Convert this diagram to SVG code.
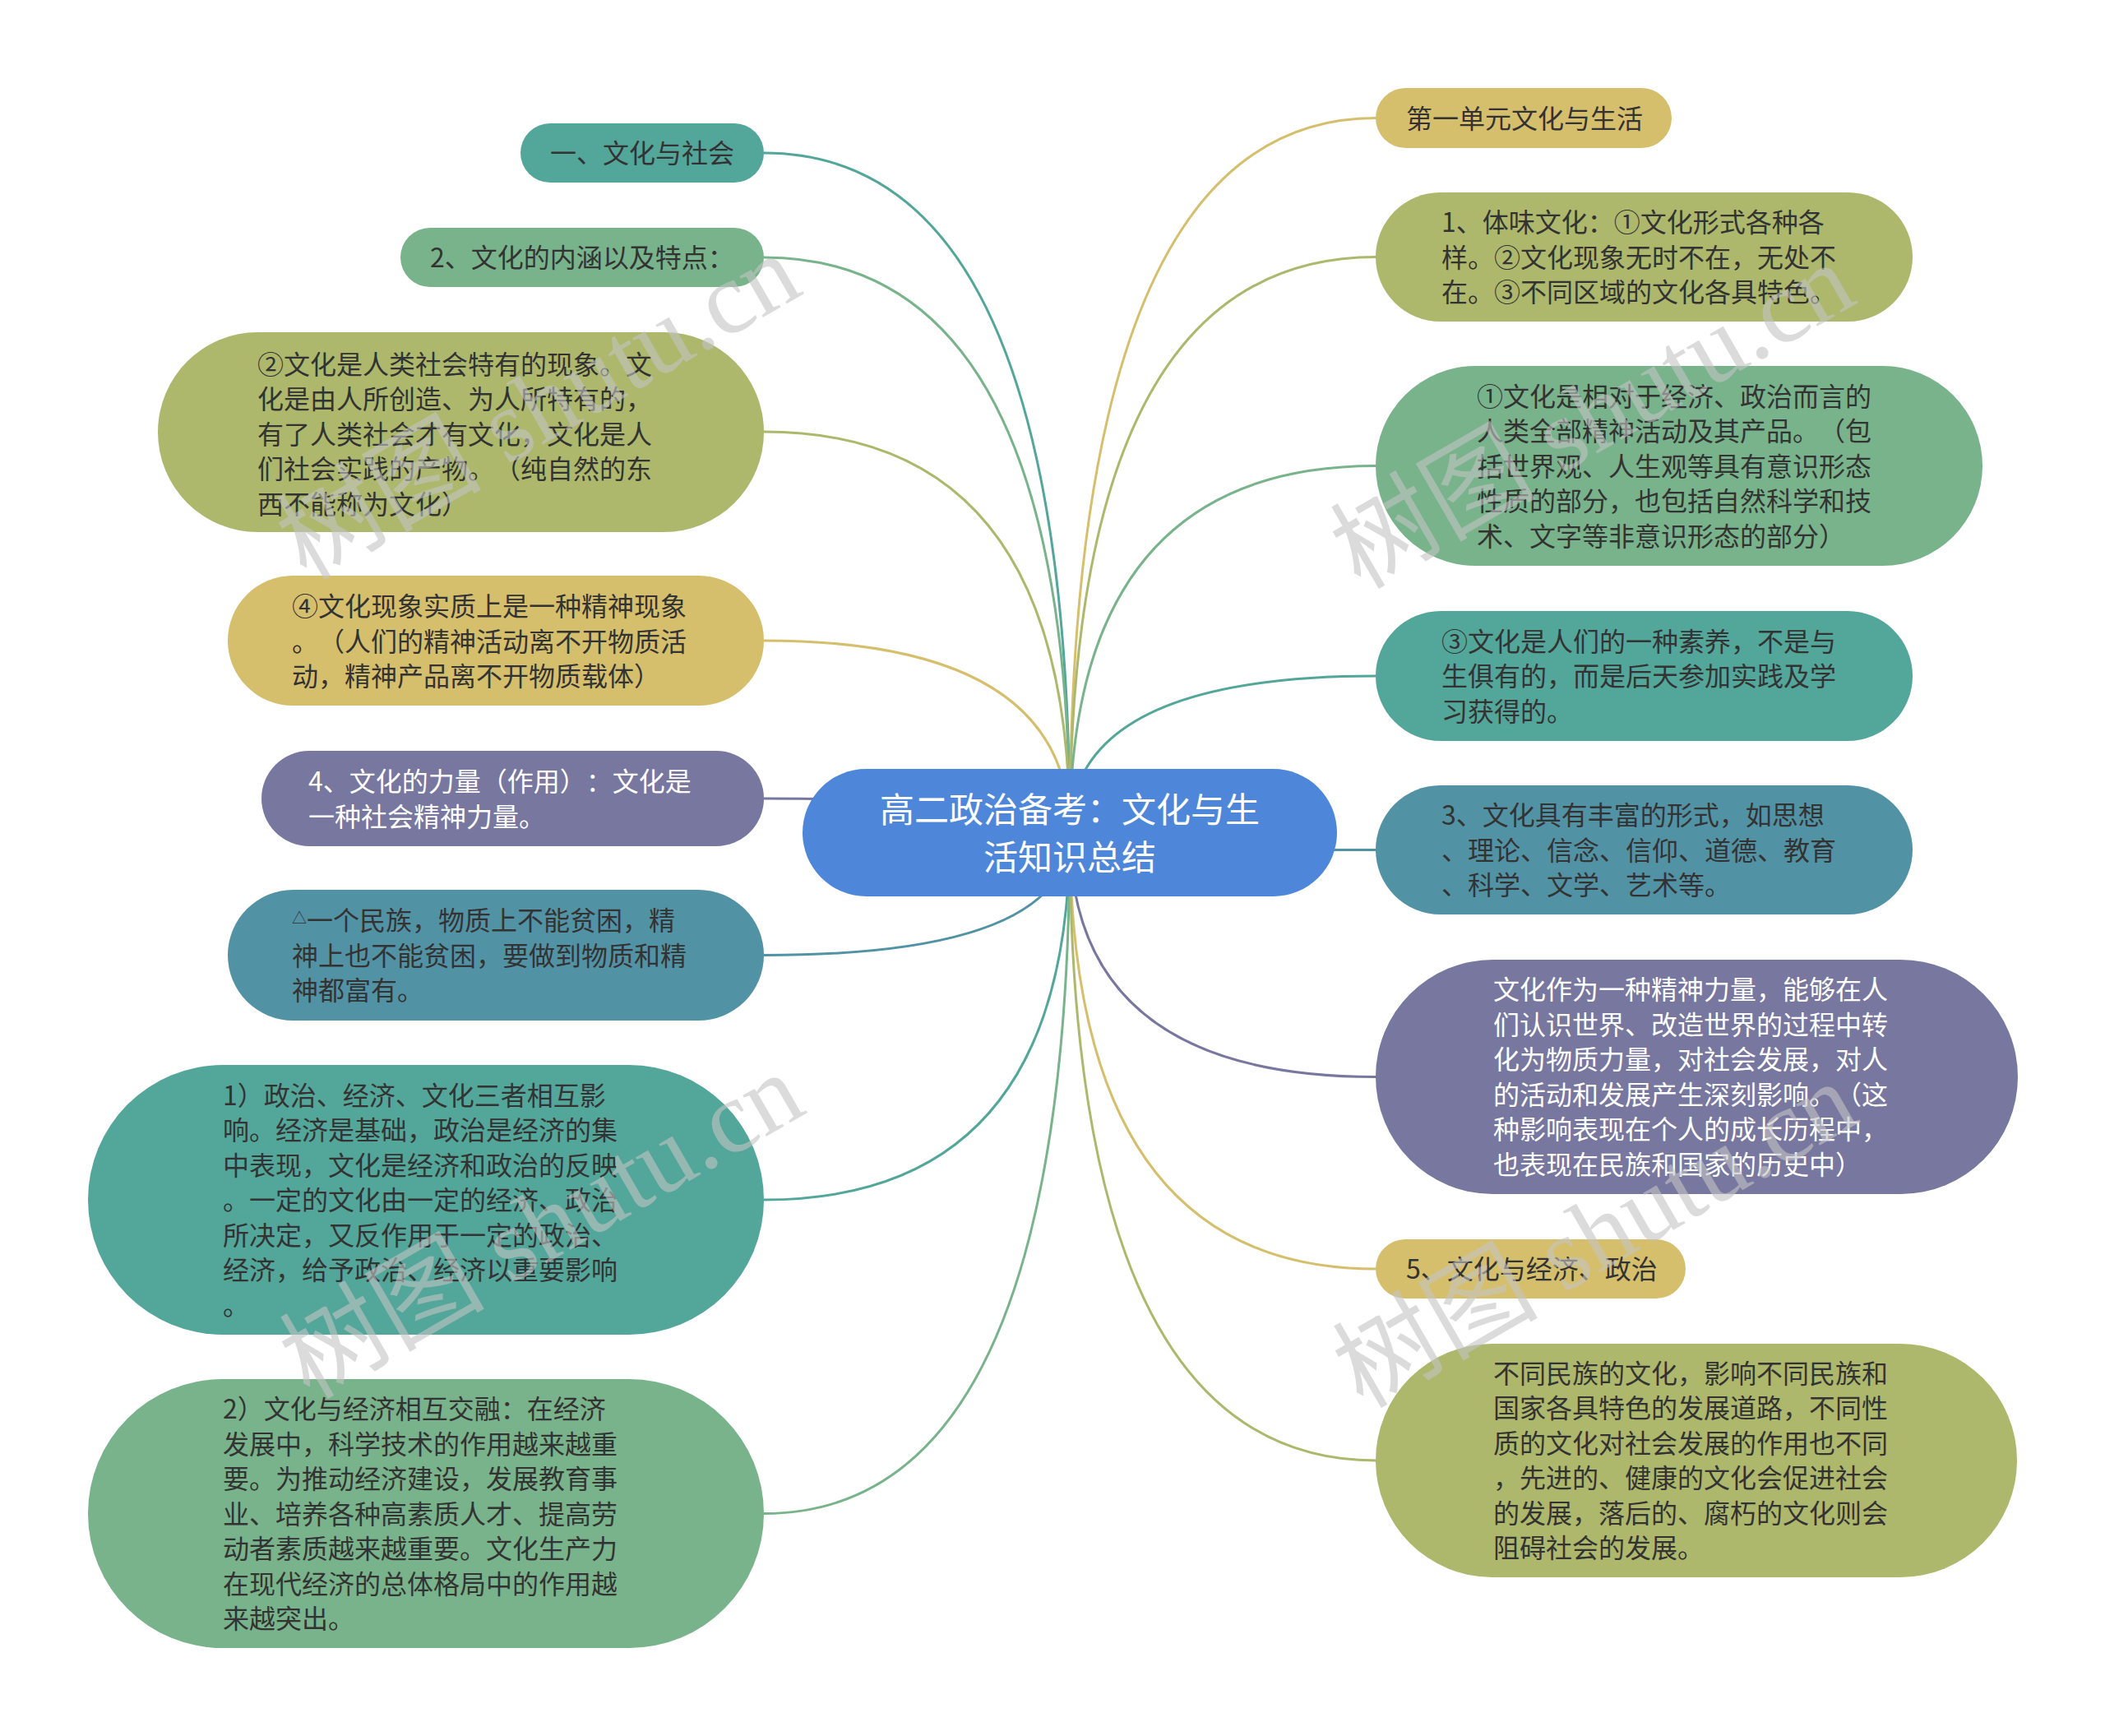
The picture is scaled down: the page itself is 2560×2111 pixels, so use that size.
<svg xmlns="http://www.w3.org/2000/svg" width="2560" height="2111" viewBox="0 0 2560 2111">
<style>
text{text-spacing-trim:space-all}
.t{font-family:"Noto Sans CJK SC","Noto Sans",sans-serif;font-size:32px;fill:#333333}
.w{fill:#ffffff}
.c{font-family:"Noto Sans CJK SC","Noto Sans",sans-serif;font-size:42px;fill:#ffffff;text-anchor:middle}
.e{fill:none;stroke-width:3}
.wm{font-family:"Liberation Serif","Noto Sans CJK SC",serif;font-size:125px;fill:#c4c4c4;opacity:0.6;text-anchor:middle}
.teal{fill:#53a69a}.green{fill:#78b38b}.olive{fill:#adb86c}.gold{fill:#d6bf6c}.purple{fill:#77779f}.blue{fill:#5292a5}
</style>
<rect width="2560" height="2111" fill="#ffffff"/>
<g id="connectors">
<path class="e" stroke="#53a69a" d="M1301 1012 Q1301 186 929 186"/>
<path class="e" stroke="#78b38b" d="M1301 1012 Q1301 313 929 313"/>
<path class="e" stroke="#adb86c" d="M1301 1012 Q1301 525 929 525"/>
<path class="e" stroke="#d6bf6c" d="M1301 1012 Q1301 779 929 779"/>
<path class="e" stroke="#77779f" d="M1301 1012 Q1301 971 929 971"/>
<path class="e" stroke="#5292a5" d="M1301 1012 Q1301 1161.5 929 1161.5"/>
<path class="e" stroke="#53a69a" d="M1301 1012 Q1301 1459 929 1459"/>
<path class="e" stroke="#78b38b" d="M1301 1012 Q1301 1840.5 929 1840.5"/>
<path class="e" stroke="#d6bf6c" d="M1301 1012 Q1301 143.5 1673 143.5"/>
<path class="e" stroke="#adb86c" d="M1301 1012 Q1301 312.5 1673 312.5"/>
<path class="e" stroke="#78b38b" d="M1301 1012 Q1301 566.5 1673 566.5"/>
<path class="e" stroke="#53a69a" d="M1301 1012 Q1301 822 1673 822"/>
<path class="e" stroke="#5292a5" d="M1301 1012 Q1301 1033.5 1673 1033.5"/>
<path class="e" stroke="#77779f" d="M1301 1012 Q1301 1309.5 1673 1309.5"/>
<path class="e" stroke="#d6bf6c" d="M1301 1012 Q1301 1543 1673 1543"/>
<path class="e" stroke="#adb86c" d="M1301 1012 Q1301 1776 1673 1776"/>
</g>
<g id="center">
<rect x="976" y="935" width="650" height="155" rx="77.5" fill="#4e87d9"/>
<text class="c"><tspan x="1301" y="1000">高二政治备考：文化与生</tspan><tspan x="1301" y="1058">活知识总结</tspan></text>
</g>
<g id="L1">
<rect class="teal" x="633" y="150" width="296" height="72" rx="36"/>
<text class="t"><tspan x="669" y="198">一、文化与社会</tspan></text>
</g>
<g id="L2">
<rect class="green" x="487" y="277" width="442" height="72" rx="36"/>
<text class="t"><tspan x="523" y="325">2、文化的内涵以及特点：</tspan></text>
</g>
<g id="L3">
<rect class="olive" x="192" y="404" width="737" height="243" rx="121.5"/>
<text class="t"><tspan x="313" y="454.5">②文化是人类社会特有的现象。文</tspan><tspan x="313" y="497">化是由人所创造、为人所特有的，</tspan><tspan x="313" y="539.5">有了人类社会才有文化，文化是人</tspan><tspan x="313" y="582">们社会实践的产物。（纯自然的东</tspan><tspan x="313" y="624.5">西不能称为文化）</tspan></text>
</g>
<g id="L4">
<rect class="gold" x="277" y="700" width="652" height="158" rx="79"/>
<text class="t"><tspan x="355" y="749">④文化现象实质上是一种精神现象</tspan><tspan x="355" y="791.5">。（人们的精神活动离不开物质活</tspan><tspan x="355" y="834">动，精神产品离不开物质载体）</tspan></text>
</g>
<g id="L5">
<rect class="purple" x="318" y="913" width="611" height="116" rx="58"/>
<text class="t w"><tspan x="375" y="962">4、文化的力量（作用）：文化是</tspan><tspan x="375" y="1004.5">一种社会精神力量。</tspan></text>
</g>
<g id="L6">
<rect class="blue" x="277" y="1082" width="652" height="159" rx="79.5"/>
<text class="t"><tspan x="355" y="1131"><tspan font-size="18" dy="-8">△</tspan><tspan dy="8">一个民族，物质上不能贫困，精</tspan></tspan><tspan x="355" y="1173.5">神上也不能贫困，要做到物质和精</tspan><tspan x="355" y="1216">神都富有。</tspan></text>
</g>
<g id="L7">
<rect class="teal" x="107" y="1295" width="822" height="328" rx="164"/>
<text class="t"><tspan x="271" y="1343.5">1）政治、经济、文化三者相互影</tspan><tspan x="271" y="1386">响。经济是基础，政治是经济的集</tspan><tspan x="271" y="1428.5">中表现，文化是经济和政治的反映</tspan><tspan x="271" y="1471">。一定的文化由一定的经济、政治</tspan><tspan x="271" y="1513.5">所决定，又反作用于一定的政治、</tspan><tspan x="271" y="1556">经济，给予政治、经济以重要影响</tspan><tspan x="271" y="1598.5">。</tspan></text>
</g>
<g id="L8">
<rect class="green" x="107" y="1677" width="822" height="327" rx="163.5"/>
<text class="t"><tspan x="271" y="1725">2）文化与经济相互交融：在经济</tspan><tspan x="271" y="1767.5">发展中，科学技术的作用越来越重</tspan><tspan x="271" y="1810">要。为推动经济建设，发展教育事</tspan><tspan x="271" y="1852.5">业、培养各种高素质人才、提高劳</tspan><tspan x="271" y="1895">动者素质越来越重要。文化生产力</tspan><tspan x="271" y="1937.5">在现代经济的总体格局中的作用越</tspan><tspan x="271" y="1980">来越突出。</tspan></text>
</g>
<g id="R1">
<rect class="gold" x="1673" y="107" width="360" height="73" rx="36.5"/>
<text class="t"><tspan x="1710" y="155.5">第一单元文化与生活</tspan></text>
</g>
<g id="R2">
<rect class="olive" x="1673" y="234" width="653" height="157" rx="78.5"/>
<text class="t"><tspan x="1753" y="282">1、体味文化：①文化形式各种各</tspan><tspan x="1753" y="324.5">样。②文化现象无时不在，无处不</tspan><tspan x="1753" y="367">在。③不同区域的文化各具特色。</tspan></text>
</g>
<g id="R3">
<rect class="green" x="1673" y="445" width="738" height="243" rx="121.5"/>
<text class="t"><tspan x="1796" y="493.5">①文化是相对于经济、政治而言的</tspan><tspan x="1796" y="536">人类全部精神活动及其产品。（包</tspan><tspan x="1796" y="578.5">括世界观、人生观等具有意识形态</tspan><tspan x="1796" y="621">性质的部分，也包括自然科学和技</tspan><tspan x="1796" y="663.5">术、文字等非意识形态的部分）</tspan></text>
</g>
<g id="R4">
<rect class="teal" x="1673" y="743" width="653" height="158" rx="79"/>
<text class="t"><tspan x="1753" y="791.5">③文化是人们的一种素养，不是与</tspan><tspan x="1753" y="834">生俱有的，而是后天参加实践及学</tspan><tspan x="1753" y="876.5">习获得的。</tspan></text>
</g>
<g id="R5">
<rect class="blue" x="1673" y="955" width="653" height="157" rx="78.5"/>
<text class="t"><tspan x="1753" y="1003">3、文化具有丰富的形式，如思想</tspan><tspan x="1753" y="1045.5">、理论、信念、信仰、道德、教育</tspan><tspan x="1753" y="1088">、科学、文学、艺术等。</tspan></text>
</g>
<g id="R6">
<rect class="purple" x="1673" y="1167" width="781" height="285" rx="142.5"/>
<text class="t w"><tspan x="1816" y="1215.25">文化作为一种精神力量，能够在人</tspan><tspan x="1816" y="1257.75">们认识世界、改造世界的过程中转</tspan><tspan x="1816" y="1300.25">化为物质力量，对社会发展，对人</tspan><tspan x="1816" y="1342.75">的活动和发展产生深刻影响。（这</tspan><tspan x="1816" y="1385.25">种影响表现在个人的成长历程中，</tspan><tspan x="1816" y="1427.75">也表现在民族和国家的历史中）</tspan></text>
</g>
<g id="R7">
<rect class="gold" x="1673" y="1507" width="377" height="72" rx="36"/>
<text class="t"><tspan x="1710" y="1555">5、文化与经济、政治</tspan></text>
</g>
<g id="R8">
<rect class="olive" x="1673" y="1634" width="780" height="284" rx="142"/>
<text class="t"><tspan x="1816" y="1681.75">不同民族的文化，影响不同民族和</tspan><tspan x="1816" y="1724.25">国家各具特色的发展道路，不同性</tspan><tspan x="1816" y="1766.75">质的文化对社会发展的作用也不同</tspan><tspan x="1816" y="1809.25">，先进的、健康的文化会促进社会</tspan><tspan x="1816" y="1851.75">的发展，落后的、腐朽的文化则会</tspan><tspan x="1816" y="1894.25">阻碍社会的发展。</tspan></text>
</g>
<g id="watermarks">
<text class="wm" transform="translate(655 495) rotate(-30)" x="0" y="42">树图 shutu.cn</text>
<text class="wm" transform="translate(1937 506) rotate(-30)" x="0" y="42">树图 shutu.cn</text>
<text class="wm" transform="translate(659 1491) rotate(-30)" x="0" y="42">树图 shutu.cn</text>
<text class="wm" transform="translate(1940 1502) rotate(-30)" x="0" y="42">树图 shutu.cn</text>
</g>
</svg>
